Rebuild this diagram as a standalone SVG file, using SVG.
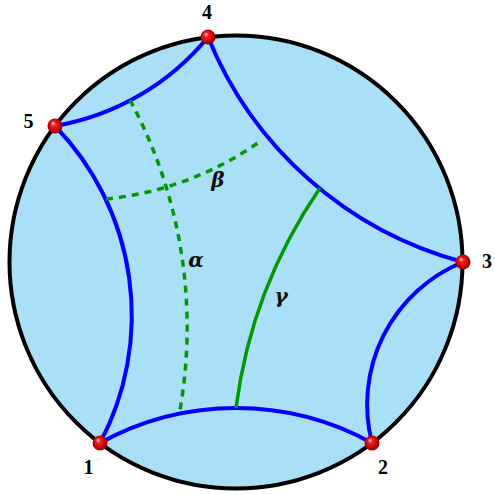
<svg xmlns="http://www.w3.org/2000/svg" width="495" height="495" viewBox="0 0 495 495">
  <defs>
    <radialGradient id="ball" cx="0.5" cy="0.5" r="0.55" fx="0.35" fy="0.3">
      <stop offset="0" stop-color="#ffd0d0"/>
      <stop offset="0.3" stop-color="#ee2020"/>
      <stop offset="0.75" stop-color="#c00000"/>
      <stop offset="1" stop-color="#700000"/>
    </radialGradient>
  </defs>
  <style>
    .disk { fill: #aadff8; stroke: #000; stroke-width: 4; }
    .geo { fill: none; stroke: #0000ff; stroke-width: 4; }
    .gam { fill: none; stroke: #009900; stroke-width: 3.5; }
    .dash { fill: none; stroke: #009900; stroke-width: 3.5; stroke-dasharray: 7 6; }
    .num { font-family: "Liberation Serif", serif; font-weight: bold; font-size: 20px; fill: #000; text-anchor: middle; }
    .greek { font-family: "DejaVu Serif", serif; font-style: italic; font-weight: bold; font-size: 20px; fill: #111; text-anchor: middle; }
    .pt { fill: url(#ball); }
  </style>
  <circle class="disk" cx="236" cy="262" r="226.5"/>
  <g id="connectors">
    <path id="e12" class="geo" d="M100,443 A282,282 0 0,1 372,443"/>
    <path id="e23" class="geo" d="M372,443 A154,154 0 0,1 463,262"/>
    <path id="e34" class="geo" d="M463,262 A381,381 0 0,1 208,37"/>
    <path id="e45" class="geo" d="M208,37 A253,253 0 0,1 55,126"/>
    <path id="e51" class="geo" d="M55,126 A272,272 0 0,1 100,443"/>
    <path id="gamma" class="gam" d="M320,188 A502,502 0 0,0 236,408"/>
    <path id="alpha" class="dash" d="M130,100 A481,481 0 0,1 180,410"/>
    <path id="beta" class="dash" d="M106,199 A322,322 0 0,0 262,140"/>
  </g>
  <g id="n1"><circle class="pt" cx="100" cy="443" r="7.5"/><text class="num" x="88.5" y="474">1</text></g>
  <g id="n2"><circle class="pt" cx="372" cy="443" r="7.5"/><text class="num" x="383" y="474">2</text></g>
  <g id="n3"><circle class="pt" cx="463" cy="262" r="7.5"/><text class="num" x="487" y="268">3</text></g>
  <g id="n4"><circle class="pt" cx="208" cy="37" r="7.5"/><text class="num" x="207" y="19">4</text></g>
  <g id="n5"><circle class="pt" cx="55" cy="126" r="7.5"/><text class="num" x="28.5" y="128">5</text></g>
  <g id="labels">
    <text class="greek" x="196" y="267">α</text>
    <text class="greek" x="218" y="187">β</text>
    <text class="greek" x="281" y="303">γ</text>
  </g>
</svg>
